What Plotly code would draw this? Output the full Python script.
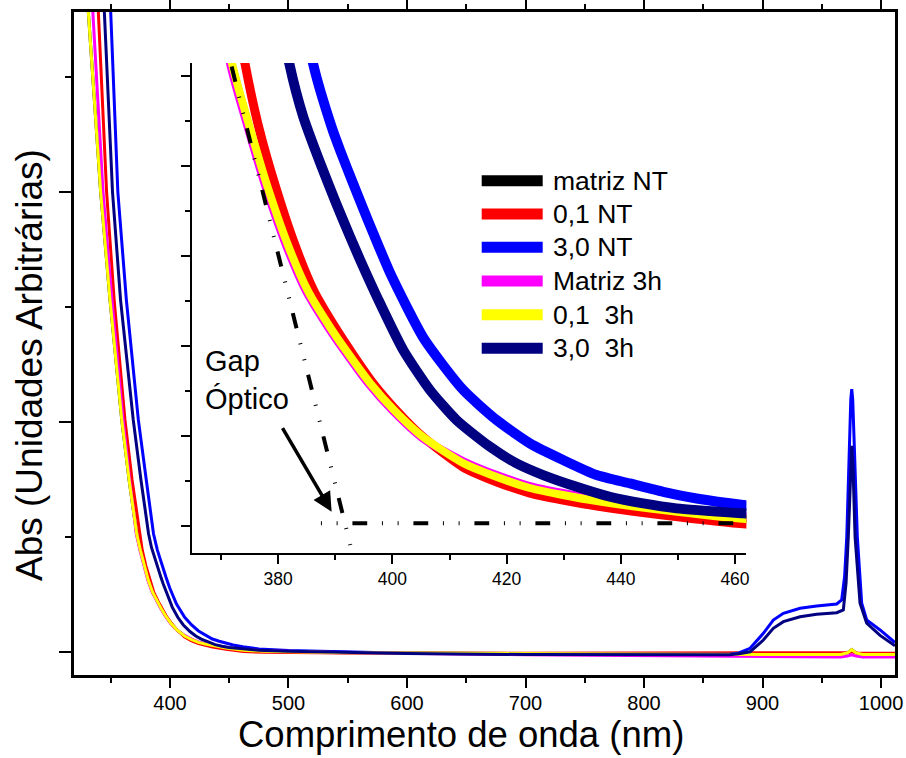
import plotly.graph_objects as go

# ------------------------------------------------------------------
# Absorbance spectra (arbitrary units) versus wavelength (nm)
# ------------------------------------------------------------------

# 3,0 NT
wl_30nt = [348.3, 350.0, 356.0, 363.2, 373.3, 380.0, 386.08, 389.35, 390.9, 393.13,
           394.9, 396.64, 399.8, 405.5, 412.4, 418.25, 424.08, 429.91, 435.76, 441.59,
           447.43, 453.27, 461.44, 462.2, 475, 500, 550, 600, 700, 800, 860, 872, 880,
           889.5, 900.7, 909.1, 917.6, 931.7, 945.7, 962.6, 966.8, 969.3, 971.1, 973.3,
           974.5, 975.3, 976.1, 977.2, 980.0, 983.7, 987.9, 999.2, 1011.8]
abs_30nt = [3.0, 2.783, 2.0, 1.53, 1.009, 0.748, 0.514, 0.443, 0.416, 0.380,
            0.352, 0.325, 0.278, 0.208, 0.1508, 0.1174, 0.0915, 0.0730, 0.0563, 0.0470,
            0.0377, 0.0303, 0.0230, 0.0225, 0.013, 0.006, 0.0, -0.005, -0.009, -0.011, -0.012, -0.010, -0.004,
            0.016, 0.081, 0.139, 0.168, 0.190, 0.200, 0.209, 0.226, 0.330, 0.501, 0.936,
            1.100, 1.143, 1.100, 0.936, 0.501, 0.212, 0.139, 0.096, 0.041]

# 3,0 3h
wl_30_3h = [342.7, 344.6, 351.5, 358.3, 369.0, 375.5, 381.93, 384.38, 387.6, 390.2,
            392.56, 394.31, 397.5, 401.89, 406.57, 411.24, 417.08, 421.75, 426.41, 432.26,
            438.09, 443.92, 449.77, 461.44, 462.2, 475, 500, 550, 600, 700, 800, 860, 872, 880,
            889.5, 900.7, 909.1, 917.6, 931.7, 945.7, 962.6, 968.2, 970.5, 972.4, 974.2,
            975.3, 976.4, 978.1, 982.3, 987.9, 999.2, 1011.8]
abs_30_3h = [3.0, 2.783, 2.0, 1.53, 1.009, 0.748, 0.5138, 0.4544, 0.3989, 0.3573,
             0.3214, 0.2958, 0.2515, 0.1952, 0.1508, 0.1174, 0.0878, 0.0693, 0.0563, 0.0433,
             0.0322, 0.0248, 0.0193, 0.0138, 0.0135, 0.008, 0.003, -0.002, -0.006, -0.011, -0.013, -0.014, -0.012, -0.008,
             0.001, 0.052, 0.103, 0.132, 0.153, 0.164, 0.171, 0.183, 0.300, 0.501, 0.800,
             0.896, 0.800, 0.501, 0.212, 0.125, 0.072, 0.027]

# 0,1 NT
wl_01nt = [337.6, 339.5, 346.5, 352.9, 362.0, 368.0, 374.16, 376.62, 379.60, 382.92,
           386.25, 389.93, 393.26, 396.58, 400.79, 405.34, 412.35, 418.30, 424.08, 429.86,
           435.81, 447.37, 461.91, 480, 550, 700, 850, 970, 973, 975.3, 977.5, 980, 1011.8]
abs_01nt = [3.0, 2.783, 2.0, 1.53, 1.009, 0.748, 0.5141, 0.4419, 0.3752, 0.3119,
            0.2608, 0.2208, 0.1886, 0.1586, 0.1274, 0.0986, 0.0652, 0.0486, 0.0363, 0.0286,
            0.0219, 0.0119, 0.0019, -0.001, -0.004, -0.005, -0.005, -0.005, -0.002, 0.001, -0.002, -0.005, -0.005]

# 0,1 3h
wl_01_3h = [328.2, 331.1, 341.5, 349.4, 359.3, 365.5, 371.89, 375.04, 378.20, 381.70,
            385.20, 389.05, 392.56, 396.06, 400.44, 405.34, 412.35, 418.30, 424.08, 429.86,
            435.81, 447.37, 461.91, 480, 550, 700, 850, 966, 971.5, 975.3, 979, 984.5, 1011.8]
abs_01_3h = [3.0, 2.783, 2.0, 1.53, 1.009, 0.748, 0.5141, 0.4419, 0.3752, 0.3119,
             0.2608, 0.2208, 0.1886, 0.1586, 0.1274, 0.0986, 0.0697, 0.0541, 0.0419, 0.0341,
             0.0274, 0.0174, 0.0074, 0.003, -0.003, -0.008, -0.010, -0.011, -0.004, 0.010, -0.004, -0.011, -0.011]

# Matriz 3h
wl_m3h = [332.5, 334.9, 343.5, 351.0, 360.4, 366.0, 371.54, 374.69, 377.85, 381.35,
          384.85, 388.70, 392.21, 395.71, 400.09, 405.34, 412.35, 418.30, 424.08, 429.86,
          435.81, 447.37, 461.91, 480, 550, 700, 850, 966, 971.5, 975.3, 979, 984.5, 1011.8]
abs_m3h = [3.0, 2.783, 2.0, 1.53, 1.009, 0.748, 0.5141, 0.4419, 0.3752, 0.3119,
           0.2608, 0.2208, 0.1886, 0.1586, 0.1274, 0.0969, 0.0719, 0.0563, 0.0441, 0.0363,
           0.0297, 0.0202, 0.0102, 0.005, -0.003, -0.012, -0.019, -0.022, -0.018, -0.012, -0.018, -0.022, -0.022]

# matriz NT runs on top of the 0,1 3h spectrum
wl_mnt = list(wl_01_3h)
abs_mnt = list(abs_01_3h)

series_names = ["matriz NT", "0,1 NT", "3,0 NT", "Matriz 3h", "0,1\u00a0\u00a03h", "3,0\u00a0\u00a03h"]
series_x = [wl_mnt, wl_01nt, wl_30nt, wl_m3h, wl_01_3h, wl_30_3h]
series_y = [abs_mnt, abs_01nt, abs_30nt, abs_m3h, abs_01_3h, abs_30_3h]

# main axis ticks
x_ticks = [400, 500, 600, 700, 800, 900, 1000]
# inset axis ticks
x2_ticks = [380, 400, 420, 440, 460]

# optical-gap construction (inset coordinates)
gap_tangent_x = [371.84, 392.63]
gap_tangent_y = [0.51, -0.0214]
gap_base_x = [387.48, 462.0]
gap_base_y = [0.0027, 0.0027]
gap_arrow_tail = (380.6, 0.11)
gap_arrow_tip = (389.35, 0.0156)

# ------------------------------------------------------------------
colors = ["#000000", "#FF0000", "#0000FF", "#FF00FF", "#FFFF00", "#000080"]
inset_widths = [7, 9, 10, 8, 8, 10]

FONT = "Liberation Sans, Arial, sans-serif"
W, H = 906, 758
ML, MR, MT, MB = 74, 11, 12, 83
PW, PH = W - ML - MR, H - MT - MB


def px(x):
    return (x - ML) / PW


def py(y):
    return (H - MB - y) / PH


fig = go.Figure()

for x, y, c in zip(series_x, series_y, colors):
    fig.add_trace(go.Scatter(x=x, y=y, mode="lines", xaxis="x", yaxis="y",
                             line=dict(color=c, width=3), showlegend=False,
                             hoverinfo="skip"))

for x, y, c, w in zip(series_x, series_y, colors, inset_widths):
    fig.add_trace(go.Scatter(x=x, y=y, mode="lines", xaxis="x2", yaxis="y2",
                             line=dict(color=c, width=w, shape="spline", smoothing=0.6),
                             showlegend=False, hoverinfo="skip"))

axis_common = dict(showgrid=False, zeroline=False, linecolor="black", ticks="outside",
                   tickcolor="black", automargin=False,
                   tickfont=dict(family=FONT, size=20, color="black"))

fig.update_layout(
    width=W, height=H,
    margin=dict(l=ML, r=MR, t=MT, b=MB, autoexpand=False),
    paper_bgcolor="white", plot_bgcolor="rgba(0,0,0,0)",
    showlegend=False,
    xaxis=dict(**axis_common, domain=[0, 1], range=[319.0, 1011.8],
               tickvals=x_ticks, linewidth=2.5, mirror="ticks",
               ticklen=10, tickwidth=2, ticklabelstandoff=-2,
               minor=dict(dtick=50, tick0=0, ticklen=5, tickwidth=2, ticks="outside",
                          tickcolor="black")),
    yaxis=dict(**axis_common, domain=[0, 1], range=[-0.1, 2.7826],
               dtick=1, tick0=0, linewidth=2.5, mirror=True,
               ticklen=12, tickwidth=2, showticklabels=False,
               minor=dict(dtick=0.5, tick0=0, ticklen=6, tickwidth=2, ticks="outside",
                          tickcolor="black")),
    xaxis2=dict(showgrid=False, zeroline=False, linecolor="black", ticks="outside",
                tickcolor="black", anchor="y2", automargin=False,
                domain=[px(192), px(746.4)], range=[364.9, 462.0],
                tickvals=x2_ticks, linewidth=2, ticklen=9, tickwidth=2,
                ticklabelstandoff=0,
                tickfont=dict(family=FONT, size=17.5, color="black"),
                minor=dict(dtick=10, tick0=360, ticklen=5, tickwidth=2, ticks="outside",
                           tickcolor="black")),
    yaxis2=dict(showgrid=False, zeroline=False, linecolor="black", ticks="outside",
                tickcolor="black", anchor="x2", automargin=False,
                domain=[py(553), py(63)], range=[-0.0303, 0.514],
                dtick=0.1, tick0=0, linewidth=2, ticklen=9, tickwidth=2,
                showticklabels=False,
                minor=dict(dtick=0.05, tick0=0, ticklen=5, tickwidth=2, ticks="outside",
                           tickcolor="black")),
)

# optical-gap tangent and baseline
fig.add_shape(type="line", xref="x2", yref="y2",
              x0=gap_tangent_x[0], y0=gap_tangent_y[0],
              x1=gap_tangent_x[1], y1=gap_tangent_y[1],
              line=dict(color="black", width=4, dash="15.5px,15.5px,1px,15.5px,1px,15px"))
fig.add_shape(type="line", xref="x2", yref="y2",
              x0=gap_base_x[0], y0=gap_base_y[0],
              x1=gap_base_x[1], y1=gap_base_y[1],
              line=dict(color="black", width=4, dash="1px,14.7px,1px,14.8px,14.8px,14.7px"))

fig.add_annotation(xref="x2", yref="y2", axref="x2", ayref="y2",
                   x=gap_arrow_tip[0], y=gap_arrow_tip[1],
                   ax=gap_arrow_tail[0], ay=gap_arrow_tail[1],
                   text="", showarrow=True, arrowhead=2, arrowsize=1.1,
                   arrowwidth=3.5, arrowcolor="black")

fig.add_annotation(xref="paper", yref="paper", x=px(203), y=py(380),
                   xanchor="left", yanchor="middle", align="left", showarrow=False,
                   text="Gap<br>Óptico",
                   font=dict(family=FONT, size=29, color="black"))

# legend drawn inside the inset
legend_rows = [180.7, 214.0, 247.3, 281.0, 314.7, 348.3]
for name, c, r in zip(series_names, colors, legend_rows):
    fig.add_shape(type="line", xref="paper", yref="paper",
                  x0=px(481.7), x1=px(542.7), y0=py(r), y1=py(r),
                  line=dict(color=c, width=11))
    fig.add_annotation(xref="paper", yref="paper", x=px(550.7), y=py(r),
                       xanchor="left", yanchor="middle", showarrow=False,
                       text=name, font=dict(family=FONT, size=26.5, color="black"))

# axis titles
fig.add_annotation(xref="paper", yref="paper", x=px(461), y=py(735),
                   xanchor="center", yanchor="middle", showarrow=False,
                   text="Comprimento de onda (nm)",
                   font=dict(family=FONT, size=36.5, color="black"))
fig.add_annotation(xref="paper", yref="paper", x=px(29), y=py(365),
                   xanchor="center", yanchor="middle", showarrow=False,
                   textangle=-90, text="Abs (Unidades Arbitrárias)",
                   font=dict(family=FONT, size=37, color="black"))

fig.write_html("out.html")
